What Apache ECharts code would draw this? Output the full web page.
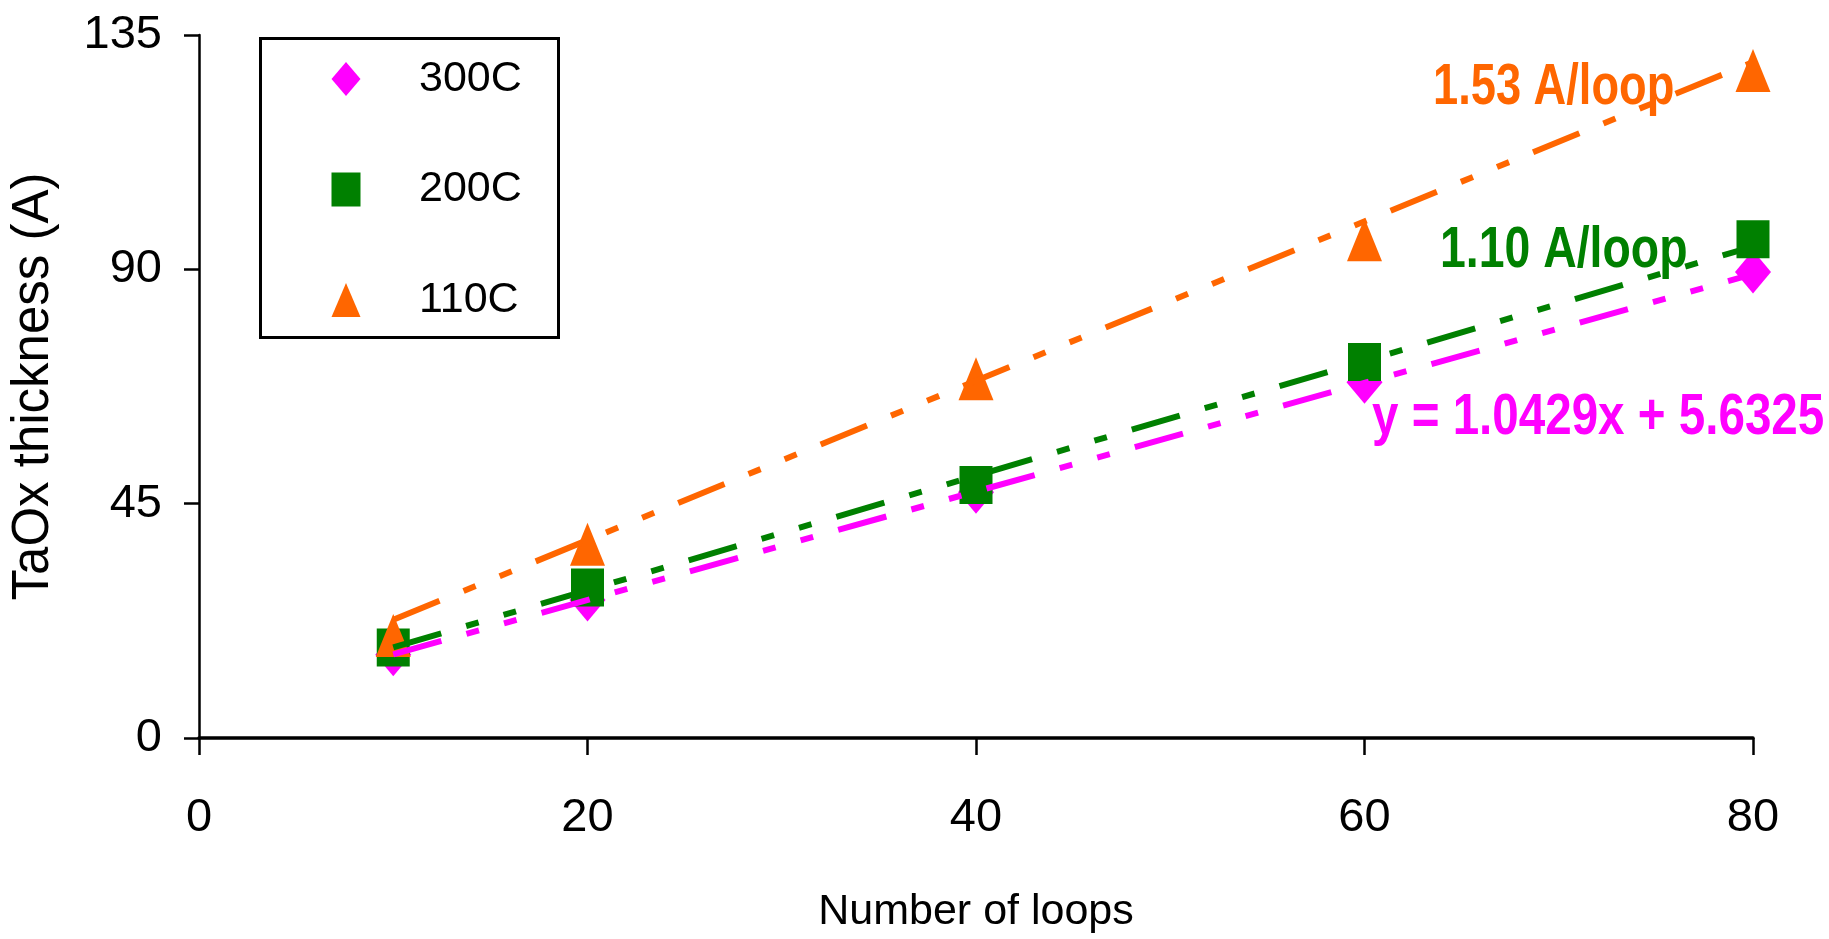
<!DOCTYPE html>
<html>
<head>
<meta charset="utf-8">
<script src="https://cdn.jsdelivr.net/npm/echarts@6/dist/echarts.min.js"></script>
<style>
  html, body { margin: 0; padding: 0; background: #fff; }
  #chart { width: 1829px; height: 939px; }
</style>
</head>
<body>
<div id="chart"></div>
<script>
// ---- data ----
const xLoops = [10, 20, 40, 60, 80];
const thick300C = [16.0, 26.5, 47.2, 68.3, 89.5];
const thick200C = [17.4, 28.9, 48.6, 72.2, 95.8];
const thick110C = [19.7, 37.2, 69.0, 95.7, 128.2];
const seriesNames = ['300C', '200C', '110C'];
const fitSlope = [1.0429, 1.10, 1.53];
const fitIntercept = [5.6325, 6.38, 7.4];
const fitLabels = ['y = 1.0429x + 5.6325', '1.10 A/loop', '1.53 A/loop'];
const xTickValues = [0, 20, 40, 60, 80];
const yTickValues = [0, 45, 90, 135];

// ---- styling ----
const colors = ['#FF00FF', '#008000', '#FF6600'];
const symbols = ['diamond', 'rect', 'triangle'];
const symbolSizes = [[36, 43], [33, 38], [35, 43]];
const FONT = "'Liberation Sans', Arial, Helvetica, sans-serif";
const dash = [50, 26, 13, 26, 13, 26];

const allY = [thick300C, thick200C, thick110C];
const scatterSeries = seriesNames.map((name, i) => ({
  name: name,
  type: 'scatter',
  data: xLoops.map((x, k) => [x, allY[i][k]]),
  symbol: symbols[i],
  symbolSize: symbolSizes[i],
  itemStyle: { color: colors[i], opacity: 1 },
  z: 2 + i,
  silent: true
}));
const fitSeries = seriesNames.map((name, i) => {
  const x0 = xLoops[0], x1 = xLoops[xLoops.length - 1];
  return {
    name: name + ' fit',
    type: 'line',
    data: [[x0, fitSlope[i] * x0 + fitIntercept[i]], [x1, fitSlope[i] * x1 + fitIntercept[i]]],
    showSymbol: false,
    symbol: 'none',
    lineStyle: { color: colors[i], width: 6, type: dash, cap: 'butt' },
    z: 6,
    silent: true
  };
});

function annot(text, x, y, color, sx) {
  return {
    type: 'text', x: x, y: y, scaleX: sx, scaleY: 1, z: 10, silent: true,
    style: {
      text: text, x: 0, y: 0,
      font: 'bold 58px ' + FONT, fill: color,
      align: 'left', verticalAlign: 'middle',
      textAlign: 'left', textVerticalAlign: 'middle'
    }
  };
}

const chart = echarts.init(document.getElementById('chart'), null, { renderer: 'canvas' });
chart.setOption({
  animation: false,
  backgroundColor: '#fff',
  grid: { left: 196, right: 76, top: 35, bottom: 197, containLabel: false },
  xAxis: {
    type: 'value', min: 0, max: 80, interval: 20,
    name: 'Number of loops', nameLocation: 'middle', nameGap: 153,
    nameTextStyle: { fontFamily: FONT, fontSize: 43, color: '#000' },
    axisLine: { show: true, onZero: false, lineStyle: { color: '#000', width: 3.5 } },
    axisTick: { show: true, inside: false, length: 17, lineStyle: { color: '#000', width: 2.5 } },
    axisLabel: { margin: 57, fontFamily: FONT, fontSize: 47, color: '#000',
      formatter: v => (xTickValues.indexOf(v) >= 0 ? String(v) : '') },
    splitLine: { show: false }
  },
  yAxis: {
    type: 'value', min: 0, max: 135, interval: 45,
    name: 'TaOx thickness (A)', nameLocation: 'middle', nameGap: 140, nameRotate: 90,
    nameTextStyle: { fontFamily: FONT, fontSize: 51, color: '#000' },
    axisLine: { show: true, onZero: false, lineStyle: { color: '#000', width: 2.5 } },
    axisTick: { show: true, inside: false, length: 15, lineStyle: { color: '#000', width: 2.5 } },
    axisLabel: { margin: 37, fontFamily: FONT, fontSize: 47, color: '#000',
      formatter: v => (yTickValues.indexOf(v) >= 0 ? String(v) : '') },
    splitLine: { show: false }
  },
  legend: {
    data: seriesNames,
    orient: 'vertical', left: 331.5, top: 57.5, padding: 0,
    itemWidth: 29, itemHeight: 34, itemGap: 67.5,
    symbolKeepAspect: false,
    selectedMode: false,
    textStyle: { fontFamily: FONT, fontSize: 43, color: '#000', padding: [0, 0, 0, 53.5] }
  },
  graphic: [
    { type: 'rect', left: 258, top: 36, z: 0, silent: true,
      shape: { width: 298, height: 299 },
      style: { fill: 'none', stroke: '#000', lineWidth: 3 } },
    annot(fitLabels[2], 1433, 87.5, colors[2], 0.78),
    annot(fitLabels[1], 1440, 251, colors[1], 0.8),
    annot(fitLabels[0], 1372, 418, colors[0], 0.82)
  ],
  series: scatterSeries.concat(fitSeries)
});
</script>
</body>
</html>
